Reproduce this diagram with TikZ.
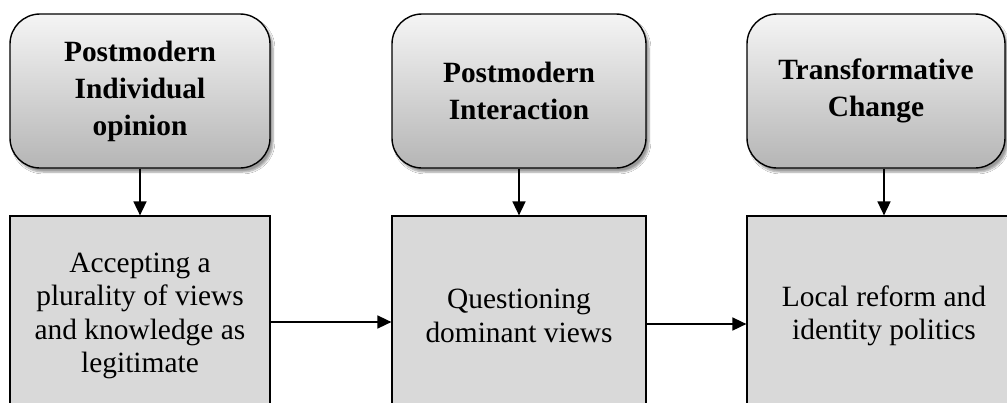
\documentclass[tikz,border=0pt]{standalone}
\usepackage{fontspec}
\setmainfont{Liberation Serif}
\usetikzlibrary{arrows.meta,shadows.blur}

\tikzset{
  headbox/.style={draw,line width=1.4pt,rounded corners=30pt,
    top color=gray!8,bottom color=gray!58,
    blur shadow={shadow xshift=3pt,shadow yshift=-4pt,shadow blur steps=6},
    minimum height=154pt,align=center,
    font=\fontsize{29.4}{37}\selectfont\bfseries},
  stagebox/.style={draw,line width=1.2pt,fill=gray!30,minimum height=200pt,
    align=center,font=\fontsize{29.4}{33.5}\selectfont},
  flow/.style={line width=1.6pt,-{Triangle[length=14pt,width=13pt]}}
}

\begin{document}
\begin{tikzpicture}[x=1pt,y=-1pt]
  \useasboundingbox[fill=white] (0,0) rectangle (1007,402);
  \clip (0,0) rectangle (1007,402);

  % upper row, rounded and shaded
  \node[headbox,minimum width=260pt] (head1) at (140,91) {Postmodern\\Individual\\opinion};
  \node[headbox,minimum width=254pt] (head2) at (519,91) {Postmodern\\Interaction};
  \node[headbox,minimum width=258pt] (head3) at (876,91) {Transformative\\Change};

  % lower row runs past the bottom edge
  \node[stagebox,minimum width=260pt] (stage1) at (140,316)
    {Accepting a\\plurality of views\\and knowledge as\\legitimate};
  \node[stagebox,minimum width=254pt] (stage2) at (519,316)
    {Questioning\\dominant views};
  \node[stagebox,minimum width=274pt] (stage3) at (884,316)
    {Local reform and\\identity politics};

  \draw[flow] (head1.south) -- (head1.south |- stage1.north);
  \draw[flow] (head2.south) -- (head2.south |- stage2.north);
  \draw[flow] (stage3.north |- head3.south) -- (stage3.north);

  % side arrows sit a little below the middle
  \draw[flow] ([yshift=-6pt]stage1.east) -- ([yshift=-6pt]stage2.west);
  \draw[flow] ([yshift=-8pt]stage2.east) -- ([yshift=-8pt]stage3.west);
\end{tikzpicture}
\end{document}
